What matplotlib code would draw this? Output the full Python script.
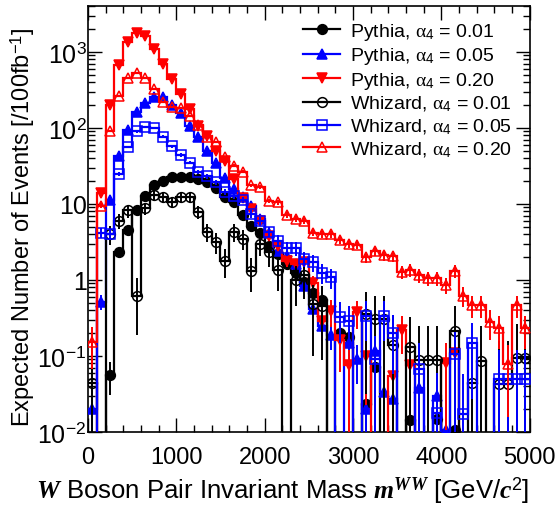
import numpy as np
import matplotlib
matplotlib.use('Agg')
import matplotlib.pyplot as plt
from matplotlib.lines import Line2D
from matplotlib.ticker import FixedLocator, MultipleLocator, LogLocator, NullFormatter

plt.rcParams['font.family'] = 'Liberation Sans'
plt.rcParams['mathtext.fontset'] = 'custom'
plt.rcParams['mathtext.rm'] = 'Liberation Sans'
plt.rcParams['mathtext.it'] = 'Liberation Serif'
plt.rcParams['mathtext.bf'] = 'Liberation Sans:bold'
plt.rcParams['mathtext.bfit'] = 'Liberation Serif:italic:bold'

# 100 GeV bins from 0 to 5000 GeV
edges = np.arange(0, 5001, 100)
centers = edges[:-1] + 50

# expected events per bin (0 = empty bin)
pythia_001 = [0, 0, 0.057, 2.3, 4.5, 8.2, 12.9, 17.9, 20, 22.9,
              22.9, 22.9, 21.3, 19.3, 16.1, 12.3, 10.5, 7.2, 5.2, 4.15,
              2.8, 2.2, 1.6, 1.24, 0.93, 0.67, 0.54, 0, 0.2, 0.18,
              0, 0.023, 0.071, 0, 0, 0, 0.0145, 0, 0, 0.015,
              0, 0.0105, 0, 0, 0, 0, 0, 0, 0, 0]
pythia_005 = [0.02, 0.52, 11.3, 43, 95, 160, 213, 255, 258, 200,
              157, 107, 75, 50, 35, 22, 15.5, 12.5, 9.3, 6.3,
              4.2, 2.4, 2.05, 1.6, 0.84, 0.42, 0.25, 0.19, 0, 0.15,
              0.091, 0.02, 0.117, 0.034, 0.027, 0, 0, 0.038, 0, 0.03,
              0.0105, 0, 0, 0, 0, 0, 0, 0, 0, 0]
pythia_020 = [0, 14, 200, 675, 1340, 1780, 1610, 1090, 695, 441,
              280, 178, 107, 79, 50, 37, 21, 12, 8.6, 6.0,
              3.8, 2.8, 1.8, 1.6, 1.7, 0.9, 0.29, 0.39, 0.16, 0.077,
              0.38, 0.1, 0, 0, 0.055, 0.22, 0.075, 0, 0, 0,
              0.08, 0.11, 0, 0, 0, 0, 0, 0, 0, 0]
whizard_001 = [0.044, 0, 4.0, 6.0, 8.2, 0.62, 8.8, 13.1, 12.3, 10.7,
               12.3, 12.3, 7.9, 4.3, 3.2, 1.8, 4.3, 3.5, 1.32, 3.0,
               2.3, 1.34, 0, 1.0, 1.16, 0.48, 0.46, 0, 0, 0,
               0, 0.36, 0.31, 0.31, 0.14, 0, 0.13, 0.088, 0.088, 0.088,
               0, 0.21, 0, 0.044, 0.086, 0, 0.043, 0.043, 0.095, 0.095]
whizard_005 = [0, 4.2, 4.0, 25, 56, 90, 103, 100, 77, 57,
               44, 35, 26.5, 23, 19.3, 14.5, 12.9, 11.3, 7.4, 6.0,
               4.3, 3.3, 2.6, 2.6, 1.9, 1.7, 1.25, 1.08, 0.33, 0.29,
               0, 0.34, 0.09, 0.34, 0.2, 0, 0, 0.067, 0, 0.018,
               0, 0.105, 0.017, 0.15, 0, 0, 0.05, 0.05, 0.05, 0.05]
whizard_020 = [0.155, 9.5, 92, 261, 451, 529, 451, 326, 218, 187,
               182, 145, 110, 75, 65, 41, 32, 26.5, 17.5, 16.6,
               11, 10.5, 7.2, 6.3, 6.0, 4.2, 4.0, 4.0, 3.4, 3.0,
               2.9, 2.0, 2.4, 2.1, 2.05, 1.29, 1.37, 1.16, 1.05, 1.05,
               0.86, 1.33, 0.62, 0.47, 0.47, 0.28, 0.23, 0.078, 0.47, 0.23]

labels = [r'Pythia, $\alpha_{4}$ = 0.01', r'Pythia, $\alpha_{4}$ = 0.05',
          r'Pythia, $\alpha_{4}$ = 0.20', r'Whizard, $\alpha_{4}$ = 0.01',
          r'Whizard, $\alpha_{4}$ = 0.05', r'Whizard, $\alpha_{4}$ = 0.20']
# approximate weight of one MC event, used for the error bars
event_weight = [0.012, 0.025, 0.06, 0.3, 0.1, 0.05]

series = [pythia_001, pythia_005, pythia_020, whizard_001, whizard_005, whizard_020]
colors = ['black', 'blue', 'red', 'black', 'blue', 'red']
markers = ['o', '^', 'v', 'o', 's', '^']
filled = [True, True, True, False, False, False]

fig = plt.figure(figsize=(5.6, 5.1), dpi=100)
ax = fig.add_axes([0.157, 0.151, 0.789, 0.835])

handles = []
for k, vals in enumerate(series):
    v = np.array(vals, dtype=float)
    c = colors[k]
    mfc = c if filled[k] else 'none'
    ms = 7 if markers[k] != 's' else 6.5
    ax.stairs(np.clip(v, 1e-6, None), edges, color=c, lw=1.6, baseline=None, zorder=2 + k)
    nz = v > 0
    err = np.sqrt(v[nz] * event_weight[k])
    lo = np.minimum(err, v[nz] * 0.9999)
    ax.errorbar(centers[nz], v[nz], yerr=[lo, err], fmt=markers[k], color=c, mfc=mfc, mec=c,
                ms=ms, mew=1.1, elinewidth=1.4, capsize=0, zorder=2 + k)
    handles.append(Line2D([], [], color=c, lw=1.6, marker=markers[k], mfc=mfc, mec=c, ms=ms, mew=1.1))

ax.set_yscale('log')
ax.set_xlim(0, 5000)
ax.set_ylim(0.01, 4000)

ax.xaxis.set_major_locator(MultipleLocator(1000))
ax.xaxis.set_minor_locator(MultipleLocator(200))
ax.yaxis.set_major_locator(FixedLocator([1e-2, 1e-1, 1, 10, 100, 1000]))
ax.set_yticklabels([r'$10^{-2}$', r'$10^{-1}$', '1', '10', r'$10^{2}$', r'$10^{3}$'])
ax.yaxis.set_minor_locator(LogLocator(base=10, subs=np.arange(2, 10)))
ax.yaxis.set_minor_formatter(NullFormatter())

ax.tick_params(which='both', direction='in', top=True, right=True, width=1)
ax.tick_params(which='major', length=10)
ax.tick_params(which='minor', length=5)
ax.tick_params(axis='x', labelsize=17, pad=10)
ax.tick_params(axis='y', labelsize=18, pad=1)
for s in ax.spines.values():
    s.set_linewidth(1.2)

ax.set_ylabel(r'Expected Number of Events [/100fb$^{-1}$]', fontsize=17)
ax.yaxis.set_label_coords(-0.115, 0.484)
ax.set_xlabel(r'$\mathbfit{W}$ Boson Pair Invariant Mass $\mathbfit{m}^{\mathbfit{WW}}$ [GeV/$\mathbfit{c}^{2}$]',
              fontsize=18.5, loc='right')
ax.xaxis.set_label_coords(1.0, -0.1)

ax.legend(handles, labels, loc='upper left', bbox_to_anchor=(0.487, 0.965), frameon=False,
          fontsize=14, handlelength=1.9, handletextpad=0.5, labelspacing=0.17,
          borderaxespad=0, borderpad=0)

fig.savefig('out.png', dpi=100)
